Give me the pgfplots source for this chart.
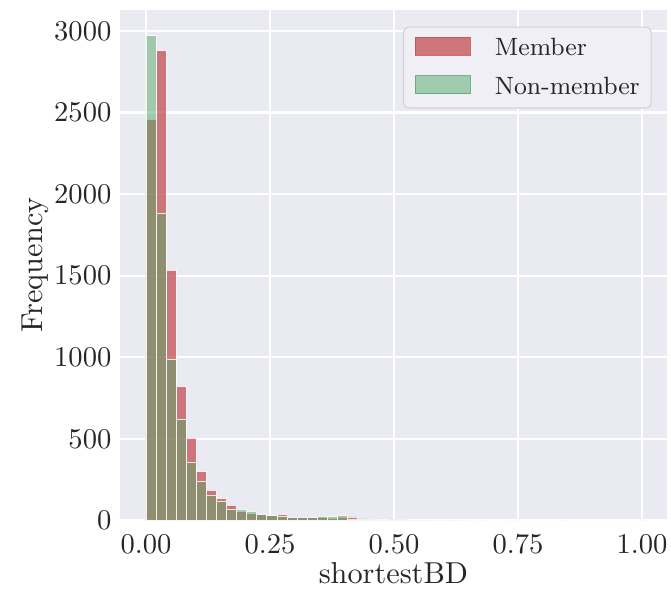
\documentclass[border=0pt]{standalone}
\usepackage{pgfplots}
\pgfplotsset{compat=1.18}
\definecolor{sbbg}{HTML}{EAEAF2}
\definecolor{sbred}{HTML}{C44E52}
\definecolor{sbgreen}{HTML}{55A868}
\definecolor{legedge}{HTML}{D2D2D8}
\definecolor{txt}{HTML}{262626}

\pgfplotstableread{
x       member nonmember
0.0000  2460  2970
0.0203  2880  1880
0.0406  1535  990
0.0609  820   620
0.0812  505   355
0.1015  300   237
0.1218  186   156
0.1421  135   115
0.1624  94    68
0.1827  55    68
0.2030  43    58
0.2233  37    37
0.2436  30    29
0.2639  37    23
0.2842  19    19
0.3045  19    19
0.3248  19    19
0.3451  22    27
0.3654  15    23
0.3857  22    30
0.4060  22    10
0.4263  10    9
0.4466  8     8
0.4669  6     5
0.4872  5     4
0.5075  4     3
0.5278  3     3
0.5481  3     2
0.5684  2     2
0.5887  2     1
0.6090  1     2
0.6293  1     1
0.6496  1     0
0.6699  0     1
0.6902  1     0
0.7105  0     0
0.7308  0     1
0.7511  0     0
0.7714  1     0
0.7917  0     0
0.8120  0     0
0.8323  0     1
0.8526  0     0
0.8729  0     0
0.8932  1     0
0.9135  0     0
0.9338  0     0
0.9541  0     0
0.9744  0     0
0.9947  1     1
1.0150  0     0
}\histdata

\begin{document}
\begin{tikzpicture}
\useasboundingbox (-42.07pt,-24.0pt) rectangle (192.8pt,182.2pt);
\begin{axis}[
  scale only axis,
  width=191.3pt, height=178.8pt,
  xmin=-0.052, xmax=1.05, ymin=0, ymax=3130,
  axis background/.style={fill=sbbg},
  axis line style={draw=none},
  major tick length=0pt,
  grid=major,
  major grid style={white, line width=0.75pt},
  xtick={0,0.25,0.5,0.75,1},
  ytick={0,500,1000,1500,2000,2500,3000},
  scaled ticks=false,
  xticklabel={\pgfmathprintnumber[fixed,fixed zerofill,precision=2]{\tick}},
  yticklabel={\pgfmathprintnumber[fixed,precision=0,1000 sep={}]{\tick}},
  tick label style={font=\fontsize{9.6}{11}\selectfont, text=txt},
  xticklabel style={inner ysep=4.9pt},
  yticklabel style={inner xsep=2.9pt},
  xlabel={shortestBD},
  ylabel={Frequency},
  label style={font=\fontsize{10.6}{12}\selectfont, text=txt, inner sep=0pt},
  xlabel style={at={(axis description cs:0.5,-0.0817)}, anchor=north},
  ylabel style={at={(axis description cs:-0.130,0.5)}, anchor=south, rotate=0},
  legend style={
    at={(0.9726,0.967)}, anchor=north east,
    draw=legedge, fill=sbbg!75!white, rounded corners=2pt,
    font=\fontsize{8.75}{10}\selectfont, text=txt,
    inner xsep=4pt, inner ysep=3.3pt,
    nodes={inner sep=0pt},
    row sep=5.3pt,
    /tikz/every odd column/.append style={column sep=8.4pt},
  },
  legend cell align=left,
]
\addplot[ybar interval, fill=sbred, fill opacity=0.75, draw=white, draw opacity=0.8, line width=0.25pt,
  legend image code/.code={\fill[sbred, fill opacity=0.75, sharp corners] (0pt,-2.0pt) rectangle (19.3pt,4.3pt);}]
  table[x=x, y=member] {\histdata};
\addlegendentry{Member}
\addplot[ybar interval, fill=sbgreen, fill opacity=0.5, draw=white, draw opacity=0.8, line width=0.25pt,
  legend image code/.code={\fill[sbgreen, fill opacity=0.5, sharp corners] (0pt,-2.0pt) rectangle (19.3pt,4.3pt);}]
  table[x=x, y=nonmember] {\histdata};
\addlegendentry{Non-member}
\end{axis}
\end{tikzpicture}
\end{document}
